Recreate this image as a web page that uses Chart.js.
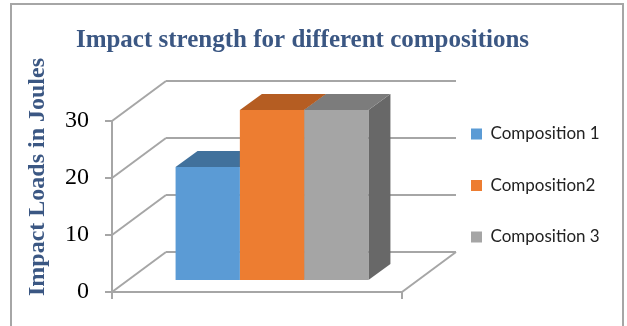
<!DOCTYPE html>
<html lang="en">
<head>
    <meta charset="UTF-8">
    <title>Impact strength for different compositions</title>
    <style>
        html,
        body {
            margin: 0;
            padding: 0;
            background-color: #ffffff;
            overflow: hidden;
        }

        .chart-wrap {
            position: relative;
            width: 627px;
            height: 326px;
        }

        /* outer frame of the chart object, bottom edge is out of view */
        .frame {
            position: absolute;
            left: 10px;
            top: 3px;
            width: 610px;
            height: 340px;
            border: 2px solid #a6a6a6;
        }

        #impactChart {
            position: absolute;
            left: 0;
            top: 0;
        }
    </style>
    <script src="https://cdn.jsdelivr.net/npm/chart.js"></script>
</head>
<body>
    <div class="chart-wrap">
        <div class="frame"></div>
        <canvas id="impactChart" width="627" height="326"></canvas>
    </div>

<script>
    // data
    const categories = [''];
    const seriesNames = ['Composition 1', 'Composition2', 'Composition 3'];
    const impactLoads = [20, 30, 30];
    const yTicks = [0, 10, 20, 30];

    // colours per series: front face, top face, side face
    const frontColors = ['#5b9bd5', '#ed7d31', '#a5a5a5'];
    const topColors = ['#41719c', '#b55d22', '#7c7c7c'];
    const sideColors = ['#3f6d97', '#ae5a21', '#686868'];

    const GRID = '#a6a6a6';
    const TITLE_BLUE = '#3b5783';

    // 3D look: depth of the floor and where the bars stand in it
    const WALL = { dx: 54, dy: -40 };
    const BAR_SHIFT = { dx: 15, dy: -11 };
    const BAR_DEPTH = { dx: 22, dy: -16 };

    function line(ctx, x1, y1, x2, y2) {
        ctx.beginPath();
        ctx.moveTo(x1, y1);
        ctx.lineTo(x2, y2);
        ctx.stroke();
    }

    function poly(ctx, pts, color) {
        ctx.beginPath();
        ctx.moveTo(pts[0][0], pts[0][1]);
        for (let i = 1; i < pts.length; i++) ctx.lineTo(pts[i][0], pts[i][1]);
        ctx.closePath();
        ctx.fillStyle = color;
        ctx.fill();
    }

    const box3d = {
        id: 'box3d',
        beforeDatasetsDraw(chart) {
            const { ctx, chartArea: a, scales: { y } } = chart;

            // side wall + back wall gridlines, floor edge
            ctx.save();
            ctx.strokeStyle = GRID;
            ctx.lineWidth = 2;
            yTicks.forEach(v => {
                const py = y.getPixelForValue(v);
                line(ctx, a.left, py, a.left + WALL.dx, py + WALL.dy);
                line(ctx, a.left + WALL.dx, py + WALL.dy, a.right + WALL.dx, py + WALL.dy);
            });
            line(ctx, a.right, a.bottom, a.right + WALL.dx, a.bottom + WALL.dy);
            ctx.restore();

            // bars stand a bit back from the front plane
            ctx.save();
            ctx.translate(BAR_SHIFT.dx, BAR_SHIFT.dy);
            chart.data.datasets.forEach((ds, i) => {
                const bar = chart.getDatasetMeta(i).data[0];
                if (!bar) return;
                const l = bar.x - bar.width / 2;
                const r = bar.x + bar.width / 2;
                const t = bar.y;
                const b = bar.base;
                poly(ctx, [[r, t], [r + BAR_DEPTH.dx, t + BAR_DEPTH.dy], [r + BAR_DEPTH.dx, b + BAR_DEPTH.dy], [r, b]], sideColors[i]);
                poly(ctx, [[l, t], [r, t], [r + BAR_DEPTH.dx, t + BAR_DEPTH.dy], [l + BAR_DEPTH.dx, t + BAR_DEPTH.dy]], topColors[i]);
            });
            // front faces are drawn by Chart.js inside this translation
        },
        afterDatasetsDraw(chart) {
            chart.ctx.restore();
        },
        afterDraw(chart) {
            // vertical axis title
            const ctx = chart.ctx;
            ctx.save();
            ctx.translate(38, 177);
            ctx.rotate(-Math.PI / 2);
            ctx.font = 'bold 24px "Liberation Serif"';
            ctx.fillStyle = TITLE_BLUE;
            ctx.textAlign = 'center';
            ctx.textBaseline = 'middle';
            ctx.fillText('Impact Loads in Joules', 0, 0);
            ctx.restore();
        }
    };

    const datasets = seriesNames.map((name, i) => ({
        label: name,
        data: [impactLoads[i]],
        backgroundColor: frontColors[i],
        borderWidth: 0,
        clip: false,
        categoryPercentage: 0.665,
        barPercentage: 1
    }));

    new Chart(document.getElementById('impactChart'), {
        type: 'bar',
        data: {
            labels: categories,
            datasets: datasets
        },
        options: {
            responsive: false,
            animation: false,
            layout: {
                padding: { left: 0, right: 22, top: 0, bottom: 0 }
            },
            scales: {
                x: {
                    ticks: { display: false },
                    grid: {
                        offset: true,
                        drawOnChartArea: false,
                        drawTicks: true,
                        tickLength: 7,
                        color: GRID,
                        lineWidth: 2
                    },
                    border: { display: true, color: GRID, width: 2 },
                    afterFit(scale) { scale.height = 34; }
                },
                y: {
                    min: 0,
                    max: 30,
                    ticks: {
                        stepSize: 10,
                        padding: 16,
                        color: '#000000',
                        font: { family: 'Liberation Serif', size: 24 }
                    },
                    grid: {
                        drawOnChartArea: false,
                        drawTicks: true,
                        tickLength: 7,
                        color: GRID,
                        lineWidth: 2
                    },
                    border: { display: true, color: GRID, width: 2 },
                    afterFit(scale) { scale.width = 112; }
                },
                // empty strip that keeps the legend clear of the 3D floor
                gap: {
                    type: 'linear',
                    position: 'right',
                    ticks: { display: false },
                    grid: { display: false },
                    border: { display: false },
                    afterFit(scale) { scale.width = 34.5; }
                }
            },
            plugins: {
                title: {
                    display: true,
                    text: 'Impact strength for different compositions',
                    color: TITLE_BLUE,
                    font: { family: 'Liberation Serif', size: 25, weight: 'bold' },
                    padding: { top: 26, bottom: 65 }
                },
                legend: {
                    position: 'right',
                    maxWidth: 168.5,
                    title: {
                        display: true,
                        text: '',
                        padding: 0,
                        font: { size: 10, lineHeight: '45px' }
                    },
                    labels: {
                        boxWidth: 11,
                        boxHeight: 11,
                        padding: 34.5,
                        color: '#222222',
                        font: { family: 'Lato', size: 17 }
                    }
                },
                tooltip: { enabled: false }
            }
        },
        plugins: [box3d]
    });
</script>
</body>
</html>
